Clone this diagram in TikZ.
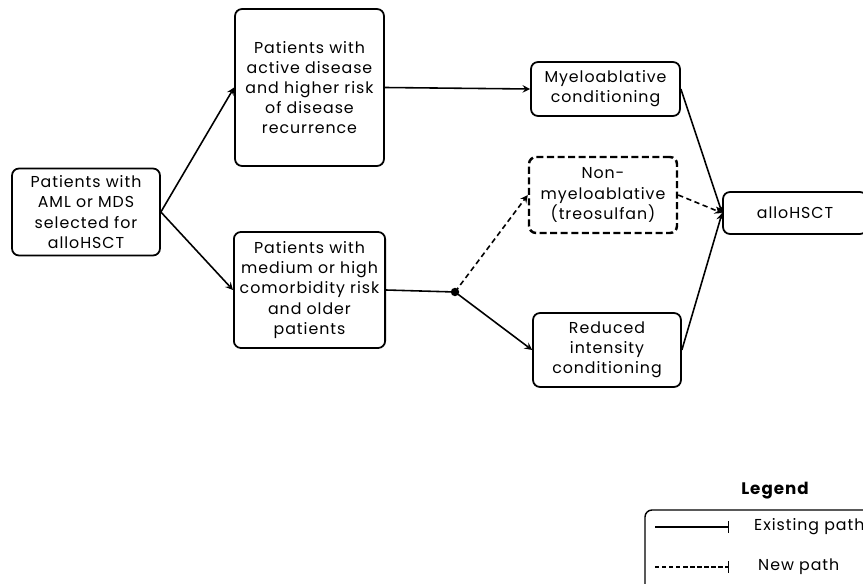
\documentclass[tikz,border=0pt]{standalone}
\usepackage{fontspec}
\setmainfont{Poppins}[LetterSpace=6]
\usetikzlibrary{arrows}
\tikzstyle{stage} = [rectangle, rounded corners=4pt, draw=black, line width=1pt, align=center, text centered, font=\fontsize{9}{11.5}\selectfont]
\tikzstyle{newstage} = [stage, dash pattern=on 4pt off 2pt, line width=1.4pt]
\tikzstyle{arrow} = [line width=0.9pt,->,>=stealth]
\tikzstyle{newarrow} = [arrow, dash pattern=on 3pt off 2pt]
\tikzstyle{keyline} = [line width=0.8pt, arrows={-|}]

\begin{document}
\begin{tikzpicture}[x=0.02cm, y=-0.02cm]
    \useasboundingbox (0,0) rectangle (863,584);

    % Nodes
    \node (selected) [stage, minimum width=2.96cm, minimum height=1.74cm] at (86,212) {Patients with\\AML or MDS\\selected for\\alloHSCT};
    \node (active) [stage, minimum width=2.98cm, minimum height=3.14cm] at (309.5,87.5) {Patients with\\active disease\\and higher risk\\of disease\\recurrence};
    \node (comorb) [stage, minimum width=2.98cm, minimum height=2.32cm] at (309.5,290) {Patients with\\medium or high\\comorbidity risk\\and older\\patients};
    \node (mac) [stage, minimum width=2.98cm, minimum height=1.08cm] at (605.5,89) {Myeloablative\\conditioning};
    \node (nma) [newstage, minimum width=2.96cm, minimum height=1.52cm] at (603,195) {Non-\\myeloablative\\(treosulfan)};
    \node (ric) [stage, minimum width=2.96cm, minimum height=1.48cm] at (607,350) {Reduced\\intensity\\conditioning};
    \node (hsct) [stage, minimum width=2.88cm, minimum height=0.84cm] at (795,213) {alloHSCT};
    \coordinate (split) at (455,292);
    \fill (split) circle (2.4pt);

    % Arrows
    \draw [arrow] (selected.east) -- (active.west);
    \draw [arrow] (selected.east) -- (comorb.west);
    \draw [arrow] (active.east) -- (mac.west);
    \draw [line width=0.9pt] (comorb.east) -- (split);
    \draw [newarrow] (split) -- (nma.west);
    \draw [arrow] (split) -- (ric.west);
    \draw [arrow] (mac.east) -- (hsct.west);
    \draw [newarrow] (nma.east) -- (hsct.west);
    \draw [arrow] (ric.east) -- (hsct.west);

    % Legend
    \node (legend) at (775,491) {\fontsize{9.5}{11}\selectfont\bfseries Legend};
    \draw [line width=0.8pt, rounded corners=4pt] (880,510) -- (645,510) -- (645,600);
    \coordinate (oldA) at (655,527);
    \coordinate (oldB) at (729,527);
    \coordinate (newA) at (655,567);
    \coordinate (newB) at (729,567);
    \draw [keyline] (oldA) -- (oldB);
    \draw [keyline, dash pattern=on 2.5pt off 1.5pt] (newA) -- (newB);
    \node (oldtext) [anchor=west, font=\fontsize{9}{11}\selectfont] at (748,527) {Existing path};
    \node (newtext) [anchor=west, font=\fontsize{9}{11}\selectfont] at (752,567) {New path};

\end{tikzpicture}
\end{document}
